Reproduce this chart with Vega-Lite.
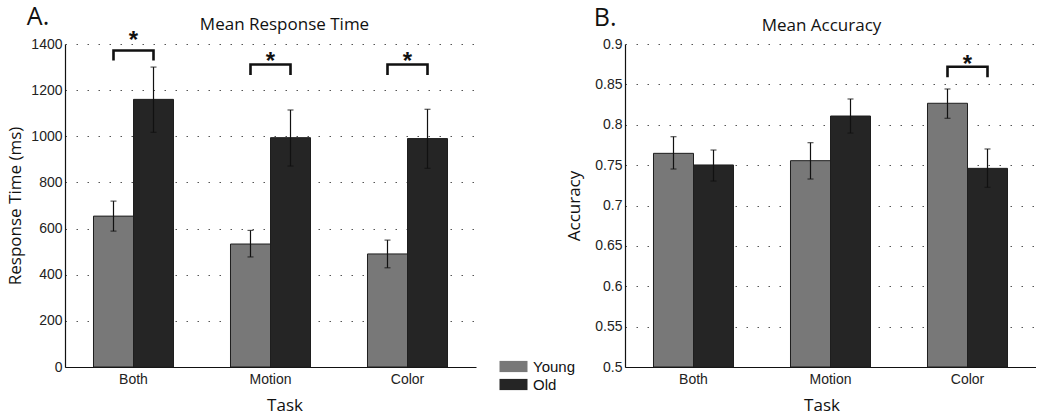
{
  "$schema": "https://vega.github.io/schema/vega-lite/v6.json",
  "padding": {"left": 6, "top": 4, "right": 0, "bottom": 0},
  "background": "white",
  "config": {
    "view": {"stroke": null},
    "font": "Liberation Sans",
    "axis": {
      "labelFont": "Liberation Sans", "labelFontSize": 14, "labelColor": "#222",
      "titleFont": "Open Sans", "titleFontSize": 17, "titleFontWeight": "normal", "titleColor": "#111",
      "domainColor": "#111", "domainWidth": 1.2, "ticks": false
    },
    "title": {"font": "Open Sans", "fontSize": 17, "fontWeight": "normal", "color": "#111"},
    "legend": {
      "title": null, "orient": "none", "legendX": 441, "legendY": 315,
      "symbolType": "M-2,-0.8H2V0.8H-2Z", "symbolSize": 196, "symbolStrokeWidth": 0,
      "labelFont": "Liberation Sans", "labelFontSize": 15, "labelColor": "#111",
      "labelOffset": 12, "rowPadding": 2
    }
  },
  "datasets": {
    "rt": [
      {"task": "Both", "group": "Young", "mean": 654, "lo": 589, "hi": 719},
      {"task": "Both", "group": "Old", "mean": 1160, "lo": 1017, "hi": 1300},
      {"task": "Motion", "group": "Young", "mean": 533, "lo": 477, "hi": 592},
      {"task": "Motion", "group": "Old", "mean": 994, "lo": 871, "hi": 1114},
      {"task": "Color", "group": "Young", "mean": 490, "lo": 430, "hi": 550},
      {"task": "Color", "group": "Old", "mean": 990, "lo": 861, "hi": 1117}
    ],
    "acc": [
      {"task": "Both", "group": "Young", "mean": 0.7646, "lo": 0.7452, "hi": 0.7852},
      {"task": "Both", "group": "Old", "mean": 0.7502, "lo": 0.7303, "hi": 0.7687},
      {"task": "Motion", "group": "Young", "mean": 0.7555, "lo": 0.7328, "hi": 0.7778},
      {"task": "Motion", "group": "Old", "mean": 0.8108, "lo": 0.7897, "hi": 0.8319},
      {"task": "Color", "group": "Young", "mean": 0.8266, "lo": 0.808, "hi": 0.8443},
      {"task": "Color", "group": "Old", "mean": 0.746, "lo": 0.7225, "hi": 0.77}
    ],
    "rtSig": [
      {"task": "Both", "group": "Young", "y": 1328, "ord": 1},
      {"task": "Both", "group": "Young", "y": 1372, "ord": 2},
      {"task": "Both", "group": "Old", "y": 1372, "ord": 3},
      {"task": "Both", "group": "Old", "y": 1328, "ord": 4},
      {"task": "Motion", "group": "Young", "y": 1266, "ord": 1},
      {"task": "Motion", "group": "Young", "y": 1311, "ord": 2},
      {"task": "Motion", "group": "Old", "y": 1311, "ord": 3},
      {"task": "Motion", "group": "Old", "y": 1266, "ord": 4},
      {"task": "Color", "group": "Young", "y": 1266, "ord": 1},
      {"task": "Color", "group": "Young", "y": 1311, "ord": 2},
      {"task": "Color", "group": "Old", "y": 1311, "ord": 3},
      {"task": "Color", "group": "Old", "y": 1266, "ord": 4}
    ],
    "rtAst": [
      {"task": "Both", "y": 1435, "label": "*"},
      {"task": "Motion", "y": 1344, "label": "*"},
      {"task": "Color", "y": 1344, "label": "*"}
    ],
    "accSig": [
      {"task": "Color", "group": "Young", "y": 0.8588, "ord": 1},
      {"task": "Color", "group": "Young", "y": 0.8718, "ord": 2},
      {"task": "Color", "group": "Old", "y": 0.8718, "ord": 3},
      {"task": "Color", "group": "Old", "y": 0.8588, "ord": 4}
    ],
    "accAst": [
      {"task": "Color", "y": 0.88, "label": "*"}
    ]
  },
  "spacing": 89,
  "hconcat": [
    {
      "title": {"text": "A.", "fontSize": 25, "anchor": "start", "frame": "bounds", "baseline": "alphabetic", "dx": 20, "dy": 38},
      "vconcat": [
        {
          "width": 411, "height": 323,
          "title": {"text": "Mean Response Time", "baseline": "alphabetic", "offset": -18, "dx": 14},
          "encoding": {
            "x": {"field": "task", "type": "nominal", "sort": ["Both", "Motion", "Color"],
                  "scale": {"paddingInner": 0.416, "paddingOuter": 0.208},
                  "axis": {"title": "Task", "labelAngle": 0, "labelPadding": 5, "titlePadding": 11, "titleX": 219.5}}
          },
          "layer": [
            {
              "data": {"name": "rt"},
              "mark": {"type": "bar", "stroke": "#1e1e1e", "strokeWidth": 1},
              "encoding": {
                "xOffset": {"field": "group", "type": "nominal", "sort": ["Young", "Old"]},
                "y": {"field": "mean", "type": "quantitative",
                      "scale": {"domain": [0, 1400], "nice": false},
                      "axis": {"title": "Response Time (ms)", "values": [0, 200, 400, 600, 800, 1000, 1200, 1400], "format": "d",
                               "grid": true, "gridDash": [1.5, 9.5], "gridColor": "#555", "gridWidth": 1,
                               "labelPadding": 3, "titlePadding": 6}},
                "color": {"field": "group", "type": "nominal", "sort": ["Young", "Old"],
                          "scale": {"domain": ["Young", "Old"], "range": ["#787878", "#252525"]}}
              }
            },
            {
              "data": {"name": "rt"},
              "mark": {"type": "rule", "color": "#111", "strokeWidth": 1.2},
              "encoding": {"xOffset": {"field": "group", "type": "nominal", "sort": ["Young", "Old"]},
                           "y": {"field": "lo", "type": "quantitative"}, "y2": {"field": "hi"}}
            },
            {
              "data": {"name": "rt"},
              "mark": {"type": "tick", "orient": "horizontal", "size": 6, "thickness": 1.2, "color": "#111"},
              "encoding": {"xOffset": {"field": "group", "type": "nominal", "sort": ["Young", "Old"]},
                           "y": {"field": "lo", "type": "quantitative"}}
            },
            {
              "data": {"name": "rt"},
              "mark": {"type": "tick", "orient": "horizontal", "size": 6, "thickness": 1.2, "color": "#111"},
              "encoding": {"xOffset": {"field": "group", "type": "nominal", "sort": ["Young", "Old"]},
                           "y": {"field": "hi", "type": "quantitative"}}
            },
            {
              "data": {"name": "rtSig"},
              "mark": {"type": "line", "color": "#111", "strokeWidth": 2.6, "strokeJoin": "miter", "strokeCap": "butt", "clip": false},
              "encoding": {
                "xOffset": {"field": "group", "type": "nominal", "sort": ["Young", "Old"]},
                "y": {"field": "y", "type": "quantitative"},
                "detail": {"field": "task"},
                "order": {"field": "ord", "type": "quantitative"}
              }
            },
            {
              "data": {"name": "rtAst"},
              "mark": {"type": "text", "font": "Liberation Sans", "fontSize": 24, "fontWeight": "bold", "color": "#111", "baseline": "middle", "dy": 5, "clip": false},
              "encoding": {
                "y": {"field": "y", "type": "quantitative"},
                "text": {"field": "label"}
              }
            }
          ]
        }
      ]
    },
    {
      "title": {"text": "B.", "fontSize": 25, "anchor": "start", "frame": "bounds", "baseline": "alphabetic", "dx": 28, "dy": 38},
      "vconcat": [
        {
          "width": 411, "height": 323,
          "title": {"text": "Mean Accuracy", "baseline": "alphabetic", "offset": -11, "dx": -9},
          "encoding": {
            "x": {"field": "task", "type": "nominal", "sort": ["Both", "Motion", "Color"],
                  "scale": {"paddingInner": 0.416, "paddingOuter": 0.208},
                  "axis": {"title": "Task", "labelAngle": 0, "labelPadding": 5, "titlePadding": 11, "titleX": 196.5}}
          },
          "layer": [
            {
              "data": {"name": "acc"},
              "mark": {"type": "bar", "stroke": "#1e1e1e", "strokeWidth": 1},
              "encoding": {
                "xOffset": {"field": "group", "type": "nominal", "sort": ["Young", "Old"]},
                "y": {"field": "mean", "type": "quantitative",
                      "scale": {"domain": [0.5, 0.9], "nice": false, "zero": false},
                      "axis": {"title": "Accuracy", "values": [0.5, 0.55, 0.6, 0.65, 0.7, 0.75, 0.8, 0.85, 0.9], "format": ".2~f",
                               "grid": true, "gridDash": [1.5, 9.5], "gridColor": "#555", "gridWidth": 1,
                               "labelPadding": 3, "titlePadding": 11}},
                "y2": {"datum": 0.5},
                "color": {"field": "group", "type": "nominal", "sort": ["Young", "Old"],
                          "scale": {"domain": ["Young", "Old"], "range": ["#787878", "#252525"]}}
              }
            },
            {
              "data": {"name": "acc"},
              "mark": {"type": "rule", "color": "#111", "strokeWidth": 1.2},
              "encoding": {"xOffset": {"field": "group", "type": "nominal", "sort": ["Young", "Old"]},
                           "y": {"field": "lo", "type": "quantitative"}, "y2": {"field": "hi"}}
            },
            {
              "data": {"name": "acc"},
              "mark": {"type": "tick", "orient": "horizontal", "size": 6, "thickness": 1.2, "color": "#111"},
              "encoding": {"xOffset": {"field": "group", "type": "nominal", "sort": ["Young", "Old"]},
                           "y": {"field": "lo", "type": "quantitative"}}
            },
            {
              "data": {"name": "acc"},
              "mark": {"type": "tick", "orient": "horizontal", "size": 6, "thickness": 1.2, "color": "#111"},
              "encoding": {"xOffset": {"field": "group", "type": "nominal", "sort": ["Young", "Old"]},
                           "y": {"field": "hi", "type": "quantitative"}}
            },
            {
              "data": {"name": "accSig"},
              "mark": {"type": "line", "color": "#111", "strokeWidth": 2.6, "strokeJoin": "miter", "strokeCap": "butt", "clip": false},
              "encoding": {
                "xOffset": {"field": "group", "type": "nominal", "sort": ["Young", "Old"]},
                "y": {"field": "y", "type": "quantitative"},
                "detail": {"field": "task"},
                "order": {"field": "ord", "type": "quantitative"}
              }
            },
            {
              "data": {"name": "accAst"},
              "mark": {"type": "text", "font": "Liberation Sans", "fontSize": 24, "fontWeight": "bold", "color": "#111", "baseline": "middle", "dy": 5, "clip": false},
              "encoding": {
                "y": {"field": "y", "type": "quantitative"},
                "text": {"field": "label"}
              }
            }
          ]
        }
      ]
    }
  ],
  "resolve": {"scale": {"color": "shared"}}
}
